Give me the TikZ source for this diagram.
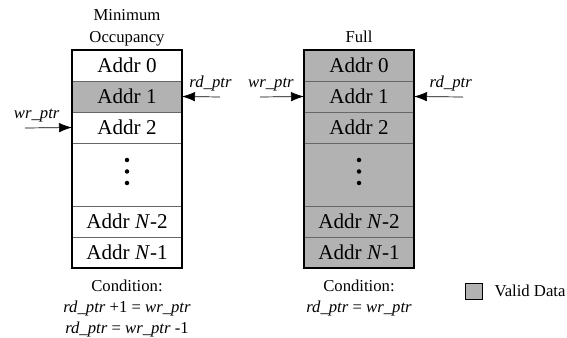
\documentclass[tikz,border=0pt]{standalone}
\usepackage{fontspec}
\setmainfont{Liberation Serif}
\usetikzlibrary{arrows.meta, positioning}

\begin{document}
\begin{tikzpicture}[auto,node distance=0pt,
 >={Latex[length=2.6mm,width=1.9mm]},
 cell node/.style={rectangle,draw=black!60,thin,minimum width=2.2cm,minimum height=0.62cm,inner sep=0pt,outer sep=0pt,font=\fontsize{12}{14}\selectfont},
 dots node/.style={cell node,minimum height=1.26cm},
 valid/.style={fill=black!30},
 label node/.style={font=\fontsize{9.5}{12}\selectfont}]

  \useasboundingbox (0,0) rectangle (11.34,-6.76);

  % minimum occupancy
  \node[cell node] (A0) at (2.54,-1.31) {Addr 0};
  \node[cell node,valid] (A1) [below=of A0] {Addr 1};
  \node[cell node] (A2) [below=of A1] {Addr 2};
  \node[dots node] (A3) [below=of A2] {};
  \node[cell node] (A4) [below=of A3] {Addr \textit{N}-2};
  \node[cell node] (A5) [below=of A4] {Addr \textit{N}-1};
  \draw[line width=1.4pt] (A0.north west) rectangle (A5.south east);

  % full
  \node[cell node,valid] (B0) at (7.18,-1.31) {Addr 0};
  \node[cell node,valid] (B1) [below=of B0] {Addr 1};
  \node[cell node,valid] (B2) [below=of B1] {Addr 2};
  \node[dots node,valid] (B3) [below=of B2] {};
  \node[cell node,valid] (B4) [below=of B3] {Addr \textit{N}-2};
  \node[cell node,valid] (B5) [below=of B4] {Addr \textit{N}-1};
  \draw[line width=1.4pt] (B0.north west) rectangle (B5.south east);

  % vertical dots
  \foreach \n in {A3,B3}
   \foreach \d in {0.29,0.06,-0.17}
    \fill (\n.center) ++(0,\d) circle (0.045);

  \node[label node,align=center,text depth=0pt] (minT) [above=1pt of A0] {Minimum\\Occupancy};
  \node[label node,text depth=0pt] (fullT) [above=1pt of B0] {Full};

  \coordinate (wl) at (0.5,-2.56);
  \coordinate (rl) at (4.4,-1.94);
  \coordinate (wf) at (5.2,-1.94);
  \coordinate (rf) at (9.26,-1.94);

  \foreach \s/\t/\i in {wl/A2.west/wr\_ptr, rl/A1.east/rd\_ptr, wf/B1.west/wr\_ptr, rf/B1.east/rd\_ptr} {
   \draw[->] (\s) -- node[label node,above,pos=0.25] {\textit{\i}} (\t);}

  \node[label node,align=center] (minC) [below=0.12cm of A5]
    {Condition:\\ \textit{rd\_ptr} +1 = \textit{wr\_ptr}\\ \textit{rd\_ptr} = \textit{wr\_ptr} -1};
  \node[label node,align=center] (fullC) [below=0.12cm of B5]
    {Condition:\\ \textit{rd\_ptr} = \textit{wr\_ptr}};

  \node[draw,thin,valid,minimum width=0.34cm,minimum height=0.32cm,inner sep=0pt] (key) at (9.47,-5.82) {};
  \node[label node] (keyT) [right=0.12cm of key] {Valid Data};

\end{tikzpicture}
\end{document}
